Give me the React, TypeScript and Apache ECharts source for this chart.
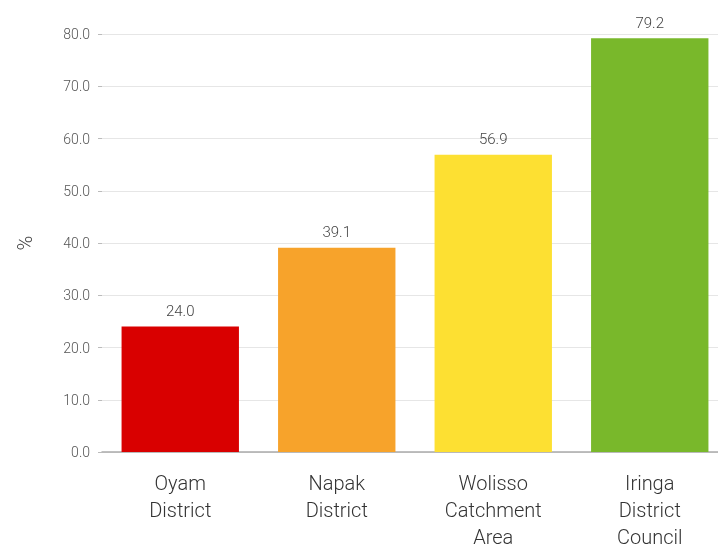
import React, { useEffect, useRef } from "react";
import * as echarts from "echarts";

const categories = ["Oyam\nDistrict", "Napak\nDistrict", "Wolisso\nCatchment\nArea", "Iringa\nDistrict\nCouncil"];
const values = [24.0, 39.1, 56.9, 79.2];
const barColors = ["#d90000", "#f7a32b", "#fde032", "#79b82b"];

export default function App() {
  const ref = useRef<HTMLDivElement>(null);
  useEffect(() => {
    const chart = echarts.init(ref.current!, null, { renderer: "svg" });
    const font = "Roboto, 'DejaVu Sans', sans-serif";
    chart.setOption({
      animation: false,
      grid: { left: 102, right: -10, top: 34, bottom: 95, containLabel: false, outerBoundsMode: "none" },
      xAxis: {
        type: "category",
        data: categories,
        axisLine: { show: true, lineStyle: { color: "#aaaaaa", width: 1.5 } },
        axisTick: { show: false },
        axisLabel: {
          color: "#333",
          fontFamily: font,
          fontWeight: 300,
          fontSize: 20,
          lineHeight: 27,
          margin: 17,
          interval: 0,
        },
      },
      yAxis: {
        type: "value",
        min: 0,
        max: 80,
        interval: 10,
        name: "%",
        nameLocation: "middle",
        nameGap: 67,
        nameRotate: 90,
        nameTextStyle: { color: "#444", fontFamily: font, fontWeight: 300, fontSize: 20 },
        axisLine: { show: false },
        axisTick: { show: true, length: 4, lineStyle: { color: "#bbb" } },
        axisLabel: {
          color: "#555",
          fontFamily: font,
          fontWeight: 300,
          fontSize: 14,
          margin: 12,
          formatter: (v: number) => v.toFixed(1),
        },
        splitLine: { show: true, lineStyle: { color: "#e6e6e6", width: 1 } },
      },
      series: [
        {
          type: "bar",
          data: values.map((v, i) => ({ value: v, itemStyle: { color: barColors[i] } })),
          barCategoryGap: "25%",
          label: {
            show: true,
            position: "top",
            distance: 8,
            color: "#444",
            fontFamily: font,
            fontWeight: 300,
            fontSize: 15,
            formatter: (p: any) => Number(p.value).toFixed(1),
          },
        },
      ],
    });
    return () => chart.dispose();
  }, []);
  return <div ref={ref} style={{ position: "fixed", left: 0, top: 0, width: 718, height: 547 }} />;
}
